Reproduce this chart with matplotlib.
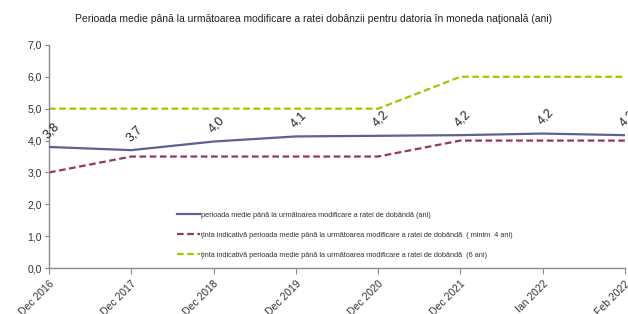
import matplotlib.pyplot as plt

plt.rcParams["font.family"] = ["Liberation Sans", "DejaVu Sans"]

TEXT_COLOR = "#333333"
AXIS_COLOR = "#8a8a8a"
AVG_COLOR = "#5f5f92"
MIN_COLOR = "#993366"
TARGET_COLOR = "#99cc00"

categories = ["Dec 2016", "Dec 2017", "Dec 2018", "Dec 2019", "Dec 2020",
              "Dec 2021", "Ian 2022", "Feb 2022"]
avg_period = [3.80, 3.70, 3.97, 4.13, 4.15, 4.17, 4.22, 4.17]
min_target = [3.0, 3.5, 3.5, 3.5, 3.5, 4.0, 4.0, 4.0]
six_target = [5.0, 5.0, 5.0, 5.0, 5.0, 6.0, 6.0, 6.0]
avg_labels = ["3,8", "3,7", "4,0", "4,1", "4,2", "4,2", "4,2", "4,2"]
y_ticks = [0, 1, 2, 3, 4, 5, 6, 7]

legend_labels = [
    "perioada medie până la următoarea modificare a ratei de dobândă (ani)",
    "ţinta indicativă perioada medie până la următoarea modificare a ratei de dobândă  ( minim  4 ani)",
    "ţinta indicativă perioada medie până la următoarea modificare a ratei de dobândă  (6 ani)",
]

fig = plt.figure(figsize=(6.28, 3.14), dpi=100)
ax = fig.add_axes([0.078, 0.146, 0.917, 0.711])

x = list(range(len(categories)))
ax.plot(x, avg_period, color=AVG_COLOR, lw=1.6, label=legend_labels[0], zorder=3)
ax.plot(x, min_target, color=MIN_COLOR, lw=1.6, ls=(0, (3, 1.6)), label=legend_labels[1])
ax.plot(x, six_target, color=TARGET_COLOR, lw=1.6, ls=(0, (3, 1.6)), label=legend_labels[2])

for xi, yi, txt in zip(x, avg_period, avg_labels):
    ax.annotate(txt, (xi, yi), xytext=(2, 12), textcoords="offset points",
                ha="center", va="center", rotation=45, fontsize=9,
                color="#222222", annotation_clip=False, clip_on=False)

ax.set_xlim(0, len(categories) - 1)
ax.set_ylim(0, 7)
ax.set_yticks(y_ticks)
ax.set_yticklabels([f"{v:.1f}".replace(".", ",") for v in y_ticks])
ax.set_xticks(x)
ax.set_xticklabels(categories, rotation=45, ha="right", rotation_mode="anchor")

for side in ("top", "right"):
    ax.spines[side].set_visible(False)
for side in ("left", "bottom"):
    ax.spines[side].set_color(AXIS_COLOR)
    ax.spines[side].set_linewidth(1.0)
ax.tick_params(axis="both", colors=AXIS_COLOR, labelcolor=TEXT_COLOR,
               labelsize=7.5, length=4, width=0.8)
ax.tick_params(axis="y", length=3, pad=2)

ax.legend(loc="center left", bbox_to_anchor=(0.222, 0.148), frameon=False,
          fontsize=5.3, handlelength=3.1, handletextpad=0.2, labelspacing=1.75,
          borderpad=0, borderaxespad=0, labelcolor=TEXT_COLOR)

fig.suptitle("Perioada medie până la următoarea modificare a ratei dobânzii pentru datoria în moneda naţională (ani)",
             x=0.5, y=0.955, fontsize=7.5, color="#222222")

fig.savefig("out.png", dpi=100)
